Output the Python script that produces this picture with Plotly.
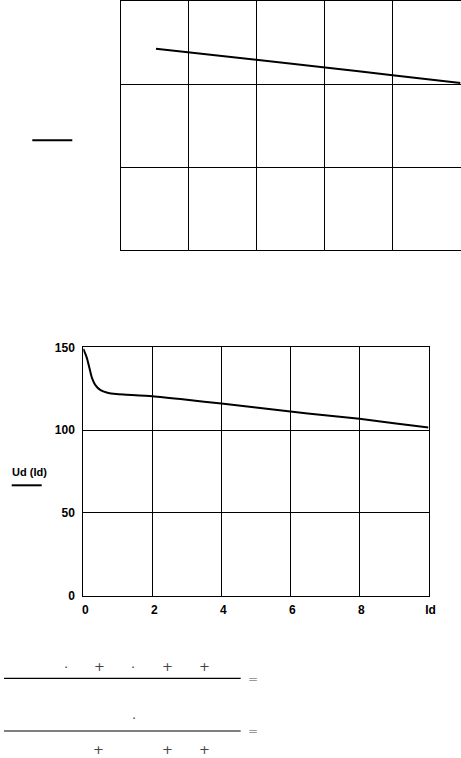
import plotly.graph_objects as go

W, H = 461, 758

# Data (Mathcad-style plot of Ud(Id))
Id = [0, 0.1, 0.18, 0.25, 0.35, 0.5, 0.7, 0.95, 1.25, 2, 3, 4, 5, 6, 7, 8, 9, 10]
Ud = [149, 143.8, 137.3, 131.5, 127.2, 124.1, 122.6, 121.8, 121.4, 120.4, 118.3,
      116, 113.6, 111.2, 109, 106.8, 104.2, 101.6]

# upper (partially visible) plot shows the same curve from Id = 1
Id_top = [1.03, 2, 3, 4, 5, 6, 7, 8, 9, 10]
Ud_top = [121.3, 119.1, 117.0, 114.9, 112.5, 110.1, 107.7, 105.3, 103.0, 100.6]

x_tickvals = [0, 2, 4, 6, 8, 10]
x_ticktext = ["0", "2", "4", "6", "8", "Id"]
y_tickvals = [0, 50, 100, 150]
y_ticktext = ["0", "50", "100", "150"]


def px_x(p):
    return p / W


def px_y(p):
    return 1 - p / H


fig = go.Figure()
fig.add_trace(go.Scatter(x=Id_top, y=Ud_top, mode="lines",
                         line=dict(color="black", width=2),
                         xaxis="x", yaxis="y", showlegend=False, hoverinfo="skip"))
fig.add_trace(go.Scatter(x=Id, y=Ud, mode="lines",
                         line=dict(color="black", width=2, shape="spline", smoothing=0.6),
                         xaxis="x2", yaxis="y2", showlegend=False, hoverinfo="skip"))

axis_common = dict(showline=True, linecolor="black", linewidth=1, mirror=True,
                   showgrid=True, gridcolor="black", gridwidth=1,
                   zeroline=False, ticks="", fixedrange=True, automargin=False)
tickfont = dict(family="Liberation Sans, Arial, sans-serif", size=12,
                color="black", weight="bold")

fig.update_layout(
    width=W, height=H, autosize=False,
    margin=dict(l=0, r=0, t=0, b=0, pad=0, autoexpand=False),
    paper_bgcolor="white", plot_bgcolor="white",
    hovermode=False,
    xaxis=dict(domain=[px_x(121), px_x(460.5)], range=[0, 10], dtick=2,
               showticklabels=False, anchor="y", **axis_common),
    yaxis=dict(domain=[px_y(250), px_y(1)], range=[0, 150], dtick=50,
               showticklabels=False, anchor="x", **axis_common),
    xaxis2=dict(domain=[px_x(83.3), px_x(428.5)], range=[0, 10],
                tickvals=x_tickvals, ticktext=x_ticktext, tickfont=tickfont,
                ticklabelstandoff=3, ticklabelshift=2,
                anchor="y2", **axis_common),
    yaxis2=dict(domain=[px_y(595.7), px_y(347.3)], range=[0, 150],
                tickvals=y_tickvals, ticktext=y_ticktext, tickfont=tickfont,
                ticklabelstandoff=5,
                anchor="x2", **axis_common),
)

shapes = []
# legend-like line beside the upper plot
shapes.append(dict(type="line", xref="paper", yref="paper",
                   x0=px_x(32.3), x1=px_x(72.3), y0=px_y(140.3), y1=px_y(140.3),
                   line=dict(color="black", width=2)))
# underline under "Ud (Id)"
shapes.append(dict(type="line", xref="paper", yref="paper",
                   x0=px_x(11.7), x1=px_x(41.7), y0=px_y(485.3), y1=px_y(485.3),
                   line=dict(color="black", width=2)))
# fraction bars of the formulas
for yy in (678.3, 731):
    shapes.append(dict(type="line", xref="paper", yref="paper",
                       x0=px_x(4), x1=px_x(240.7), y0=px_y(yy), y1=px_y(yy),
                       line=dict(color="black", width=1.2)))
fig.update_layout(shapes=shapes)

ann = []
ann.append(dict(text="<b>Ud (Id)</b>", x=px_x(29.5), y=px_y(472), xref="paper", yref="paper",
                xanchor="center", yanchor="middle", showarrow=False,
                font=dict(family="Liberation Sans, Arial, sans-serif", size=11, color="black")))

sym_font = dict(family="DejaVu Sans, sans-serif", size=13, color="#444")
symbols = [
    ("·", 66, 667), ("+", 99.7, 666.7), ("·", 133, 667), ("+", 167.7, 666.7), ("+", 204, 666.7),
    ("·", 133.7, 718),
    ("+", 98, 749), ("+", 167, 749), ("+", 204, 749),
]
for t, xx, yy in symbols:
    ann.append(dict(text=t, x=px_x(xx), y=px_y(yy), xref="paper", yref="paper",
                    xanchor="center", yanchor="middle", showarrow=False, font=sym_font))
for yy in (679, 731):
    ann.append(dict(text="=", x=px_x(252.5), y=px_y(yy), xref="paper", yref="paper",
                    xanchor="center", yanchor="middle", showarrow=False,
                    font=dict(family="DejaVu Sans, sans-serif", size=12, color="#999")))
fig.update_layout(annotations=ann)

fig.write_html("out.html",
               config={"displayModeBar": False, "responsive": False, "staticPlot": True},
               post_script="document.body.style.margin='0';document.body.style.overflow='hidden';")
